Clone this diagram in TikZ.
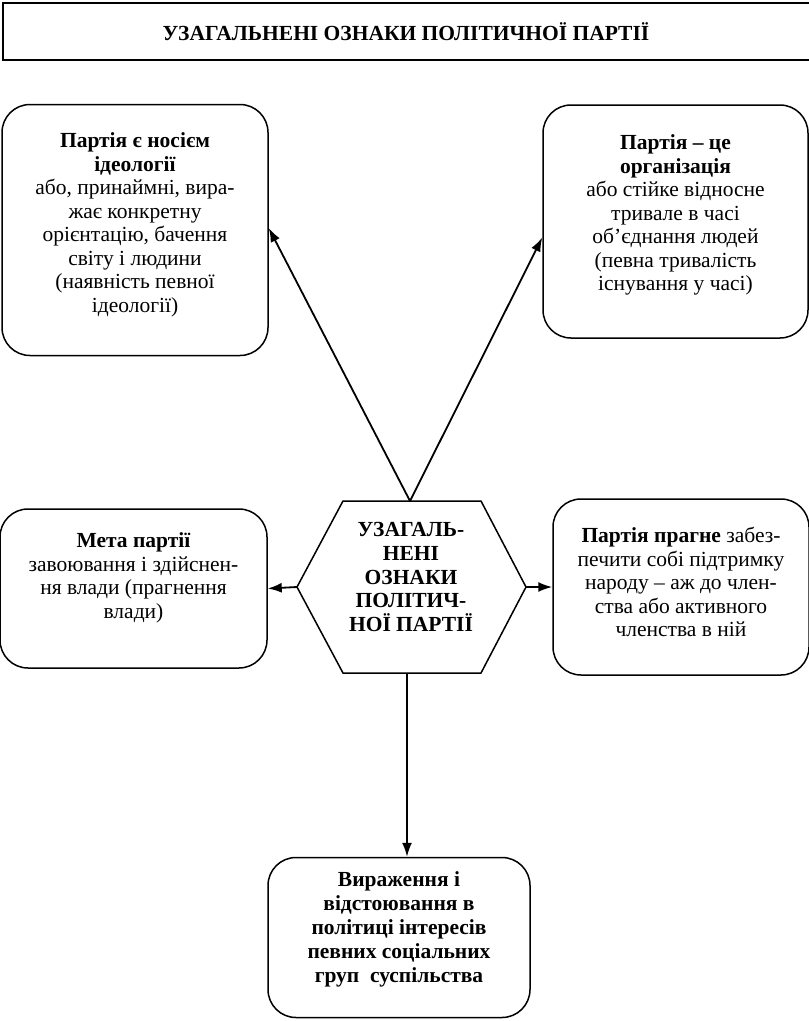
\documentclass[tikz,border=0pt]{standalone}
\usepackage{fontspec}
\setmainfont{Liberation Serif}
\usetikzlibrary{arrows.meta,calc}
\begin{document}
\begin{tikzpicture}[x=1pt,y=-1pt,
  box/.style={draw, line width=1.5pt, rounded corners=28pt, inner sep=0pt},
  boxtext/.style={align=center, inner sep=0pt, font=\fontsize{21.5}{23.5}\selectfont},
  hexline/.style={draw, line width=1.5pt, line join=miter},
  conn/.style={line width=1.8pt, -{Latex[length=14pt,width=10pt]}},
  titlebox/.style={draw, line width=1.5pt, inner sep=0pt, font=\fontsize{21.5}{23.5}\selectfont\bfseries}]
\useasboundingbox (0,0) rectangle (809,1021);

% title
\node[titlebox, minimum width=812pt, minimum height=57pt] (title) at (409,31.5)
  {\hspace*{-6pt}УЗАГАЛЬНЕНІ ОЗНАКИ ПОЛІТИЧНОЇ ПАРТІЇ};

% boxes
\node[box, minimum width=266pt, minimum height=251pt] (tl) at (135,230) {};
\node[boxtext] (tltext) at (135,225)
  {\textbf{Партія є носієм}\\ \textbf{ідеології}\\ або, принаймні, вира-\\ жає конкретну\\ орієнтацію, бачення\\ світу і людини\\ (наявність певної\\ ідеології)};
\node[box, minimum width=265pt, minimum height=233pt] (tr) at (675.5,221.5) {};
\node[boxtext] (trtext) at (675.5,215)
  {\textbf{Партія – це}\\ \textbf{організація}\\ або стійке відносне\\ тривале в часі\\ об’єднання людей\\ (певна тривалість\\ існування у часі)};
\node[box, minimum width=267pt, minimum height=159pt] (ml) at (133.5,588.5) {};
\node[boxtext] (mltext) at (133.5,578)
  {\textbf{Мета партії}\\ завоювання і здійснен-\\ ня влади (прагнення\\ влади)};
\node[box, minimum width=256pt, minimum height=176pt] (mr) at (681,587) {};
\node[boxtext] (mrtext) at (681,582)
  {\textbf{Партія прагне} забез-\\ печити собі підтримку\\ народу – аж до член-\\ ства або активного\\ членства в ній};
\node[box, minimum width=262pt, minimum height=160pt] (bot) at (399,937.5) {};
\node[boxtext, font=\fontsize{21.5}{24}\selectfont\bfseries] (bottext) at (399,929)
  {Вираження і\\ відстоювання в\\ політиці інтересів\\ певних соціальних\\ груп\ \ суспільства};

% hexagon
\coordinate (hexW) at (297,587);
\coordinate (hexTL) at (343,501);
\coordinate (hexTR) at (481,501);
\coordinate (hexE) at (526,587);
\coordinate (hexBR) at (481,673);
\coordinate (hexBL) at (343,673);
\coordinate (hexN) at (410,501);
\coordinate (hexS) at (407,673);
\path[hexline] (hexW) -- (hexTL) -- (hexTR) -- (hexE) -- (hexBR) -- (hexBL) -- cycle;
\node[boxtext, font=\fontsize{21.5}{23.7}\selectfont\bfseries] (hex) at (411,577)
  {УЗАГАЛЬ-\\ НЕНІ\\ ОЗНАКИ\\ ПОЛІТИЧ-\\ НОЇ ПАРТІЇ};

% connectors
\draw[conn] (hexN) -- ($(tl.east)+(0,-2)$);
\draw[conn] (hexN) -- ($(tr.west)+(0,16)$);
\draw[conn] (hexW) -- (ml.east);
\draw[conn] (hexE) -- (mr.west);
\draw[conn] (hexS) -- (hexS |- bot.north);
\end{tikzpicture}
\end{document}
